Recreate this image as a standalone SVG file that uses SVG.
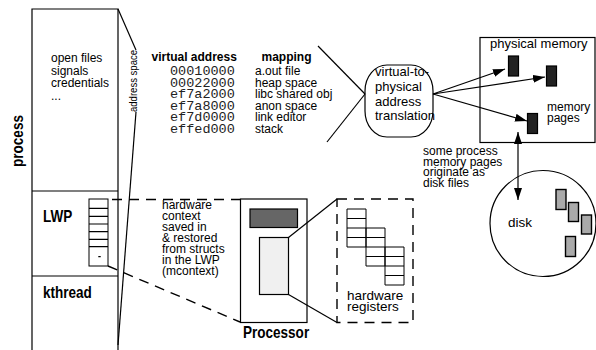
<svg xmlns="http://www.w3.org/2000/svg" width="596" height="350" viewBox="0 0 596 350">
<defs>
<marker id="ah" viewBox="0 0 12 8" refX="12" refY="4" markerWidth="12" markerHeight="8" markerUnits="userSpaceOnUse" orient="auto-start-reverse"><path d="M0,0 L12,4 L0,8 z" fill="#000"/></marker>
</defs>
<style>
text{font-family:"Liberation Sans",Arial,sans-serif;fill:#000}
.t12{font-size:12px}
.b12{font-size:12px;font-weight:bold}
.bl{font-size:16.5px;font-weight:bold}
.mono{font-family:"Liberation Mono","Courier New",monospace;font-size:13.5px;fill:#222}
.ln{stroke:#000;stroke-width:1.2;fill:none}
.dash{stroke:#000;stroke-width:1.4;fill:none;stroke-dasharray:10 7}
.page{fill:#222;stroke:#000;stroke-width:1.2}
.gpage{fill:#aaa;stroke:#000;stroke-width:1.4}
.cell{fill:#fff;stroke:#000;stroke-width:1}
</style>
<rect width="596" height="350" fill="#fff"/>

<g id="process">
<path class="ln" d="M32,350 V9 H118 V350"/>
<line class="ln" x1="32" y1="191" x2="118" y2="191"/>
<line class="ln" x1="32" y1="276" x2="118" y2="276"/>
<text class="bl" transform="translate(23,141) rotate(-90) scale(0.82,1)" text-anchor="middle">process</text>
<text class="t12" x="51" y="62">open files</text>
<text class="t12" x="51" y="74.5">signals</text>
<text class="t12" x="51" y="87">credentials</text>
<text class="t12" x="51" y="99.5">...</text>
</g>

<g id="lwp">
<text class="bl" transform="translate(43,222) scale(0.82,1)">LWP</text>
<rect class="cell" x="89" y="199" width="19" height="67"/>
<path class="ln" stroke-width="1" d="M89,208.3 H108 M89,216.3 H108 M89,224 H108 M89,231.7 H108 M89,239.3 H108 M89,246.7 H108 M98.3,256.7 H100.7"/>
</g>

<g id="kthread">
<text class="bl" transform="translate(43,298) scale(0.82,1)">kthread</text>
</g>

<g id="address-space">
<text transform="translate(137,81) rotate(-90)" text-anchor="middle" style="font-size:10.5px" textLength="62" lengthAdjust="spacingAndGlyphs">address space</text>
</g>

<g id="address-table">
<text class="b12" x="151.5" y="61">virtual address</text>
<text class="b12" x="261.5" y="61">mapping</text>
<text class="mono" x="170" y="75">00010000</text>
<text class="mono" x="170" y="86.5">00022000</text>
<text class="mono" x="170" y="98">ef7a2000</text>
<text class="mono" x="170" y="109.5">ef7a8000</text>
<text class="mono" x="170" y="121">ef7d0000</text>
<text class="mono" x="170" y="132.5">effed000</text>
<text class="t12" x="255" y="75">a.out file</text>
<text class="t12" x="255" y="86.5">heap space</text>
<text class="t12" x="255" y="98">libc shared obj</text>
<text class="t12" x="255" y="109.5">anon space</text>
<text class="t12" x="255" y="121">link editor</text>
<text class="t12" x="255" y="132.5">stack</text>
</g>

<g id="translation">
<rect x="365" y="65" width="68" height="72" rx="22" ry="26" class="ln"/>
<text x="375" y="76" style="font-size:13px">virtual-to-</text>
<text x="375" y="91" style="font-size:13px">physical</text>
<text x="375" y="105.5" style="font-size:13px">address</text>
<text x="375" y="120" style="font-size:13px">translation</text>
</g>

<g id="physical-memory">
<rect class="ln" x="480" y="37.5" width="115" height="105"/>
<text x="490" y="48" style="font-size:13px">physical memory</text>
<rect class="page" x="508.5" y="56" width="10" height="20"/>
<rect class="page" x="546.5" y="66" width="10" height="20"/>
<rect class="page" x="527.5" y="113.5" width="10" height="20"/>
<text class="t12" x="547" y="111">memory</text>
<text class="t12" x="547" y="121.5">pages</text>
</g>

<g id="disk-note">
<text class="t12" x="423" y="155">some process</text>
<text class="t12" x="423" y="165.5">memory pages</text>
<text class="t12" x="423" y="176">originate as</text>
<text class="t12" x="423" y="186.5">disk files</text>
</g>

<g id="disk">
<ellipse class="ln" stroke-width="1.5" cx="543" cy="223.5" rx="53" ry="53"/>
<text x="508" y="227" style="font-size:13.5px">disk</text>
<rect class="gpage" x="556" y="189.5" width="10" height="20"/>
<rect class="gpage" x="568.5" y="202.5" width="10" height="19"/>
<rect class="gpage" x="581.5" y="215" width="10" height="19"/>
<rect class="gpage" x="565.5" y="236.5" width="10" height="20"/>
</g>

<g id="context-note">
<text class="t12" x="162" y="208.5">hardware</text>
<text class="t12" x="162" y="219.5">context</text>
<text class="t12" x="162" y="230.5">saved in</text>
<text class="t12" x="162" y="241.5">&amp; restored</text>
<text class="t12" x="162" y="252.5">from structs</text>
<text class="t12" x="162" y="263.5">in the LWP</text>
<text class="t12" x="162" y="274.5">(mcontext)</text>
</g>

<g id="processor">
<rect class="ln" stroke-width="1.5" x="240.5" y="199" width="66.5" height="123.5"/>
<rect x="250" y="209" width="47.5" height="18.5" fill="#666" stroke="#000" stroke-width="1.2"/>
<rect x="259.5" y="237.5" width="29" height="57" fill="#f0f0f0" stroke="#000" stroke-width="1.2"/>
<text class="bl" transform="translate(243,338) scale(0.82,1)">Processor</text>
</g>

<g id="hardware-registers">
<rect class="dash" x="337" y="199" width="76" height="123.5"/>
<path class="cell" d="M347,209 h19 v38 h-19 z M366,228 h19 v38 h-19 z M385,247 h19 v38 h-19 z"/>
<path class="ln" stroke-width="1" d="M347,218.5 H366 M347,228 H366 M347,237.5 H385 M366,247 H385 M366,256.5 H404 M385,266 H404 M385,275.5 H404"/>
<text x="347" y="300" style="font-size:13.5px">hardware</text>
<text x="347" y="310.5" style="font-size:13.5px">registers</text>
</g>

<g id="connectors">
<line class="ln" x1="118" y1="9" x2="136" y2="50"/>
<line class="ln" x1="136" y1="112" x2="118" y2="345"/>
<line class="ln" x1="318" y1="46" x2="365" y2="94"/>
<line class="ln" x1="327" y1="142" x2="365" y2="94"/>
<line class="ln" x1="433" y1="94" x2="505" y2="69" marker-end="url(#ah)"/>
<line class="ln" x1="433" y1="94" x2="545" y2="77" marker-end="url(#ah)"/>
<line class="ln" x1="433" y1="94" x2="527" y2="121" marker-end="url(#ah)"/>
<line class="ln" x1="518" y1="132" x2="518" y2="200" marker-start="url(#ah)" marker-end="url(#ah)"/>
<line class="dash" x1="112" y1="199.5" x2="240" y2="199.5"/>
<line class="dash" x1="108" y1="266" x2="240" y2="322"/>
<line class="ln" x1="288.5" y1="237.5" x2="337" y2="199"/>
<line class="ln" x1="288.5" y1="294.5" x2="337" y2="322.5"/>
</g>
</svg>
